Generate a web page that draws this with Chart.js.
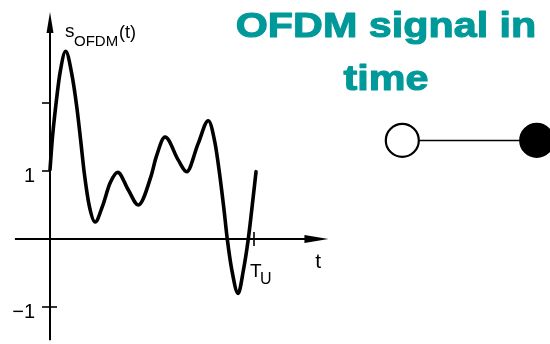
<!DOCTYPE html>
<html>
<head>
<meta charset="utf-8">
<script src="https://cdn.jsdelivr.net/npm/chart.js@4"></script>
<style>
  html, body { margin: 0; padding: 0; background: #fff; }
  #wrap { width: 550px; height: 344px; position: relative; }
</style>
</head>
<body>
<div id="wrap"><canvas id="sig"></canvas></div>
<script>
// signal samples (t in units of T_U, amplitude)
const timeT = [0, 0.011, 0.028, 0.049, 0.077, 0.106, 0.131, 0.150, 0.168, 0.193, 0.221, 0.257, 0.294, 0.332, 0.384, 0.433, 0.495, 0.52, 0.564, 0.629, 0.67, 0.727, 0.776, 0.809, 0.833, 0.853, 0.869, 0.891, 0.922, 0.948, 0.972, 0.989, 1.01];
const ampS  = [1.02, 1.46, 1.95, 2.44, 2.76, 2.44, 1.95, 1.46, 0.97, 0.48, 0.25, 0.48, 0.82, 0.98, 0.72, 0.5, 0.92, 1.2, 1.5, 1.16, 0.99, 1.41, 1.74, 1.41, 0.92, 0.43, 0, -0.45, -0.8, -0.46, 0, 0.43, 0.99];

// axis ticks
const yTickValues = [2, 1, -1];
const yTickLabels = ['', '1', '\u22121'];
const xTickValues = [1];

// open / filled circle symbol on the right
const symbolT = [1.727, 2.386];
const symbolS = [1.45, 1.45];

const titleLines = ['OFDM signal in', 'time'];

const axesPlugin = {
    id: 'axes',
    beforeDatasetsDraw(chart) {
        const ctx = chart.ctx;
        const xs = chart.scales.x, ys = chart.scales.y;
        const x0 = xs.getPixelForValue(0), y0 = ys.getPixelForValue(0);
        ctx.save();
        ctx.strokeStyle = '#000';
        ctx.fillStyle = '#000';
        ctx.lineWidth = 2;
        // x axis
        const xEnd = xs.getPixelForValue(1.365);
        ctx.beginPath();
        ctx.moveTo(xs.getPixelForValue(-0.172), y0);
        ctx.lineTo(xEnd - 10, y0);
        ctx.stroke();
        ctx.beginPath();
        ctx.moveTo(xEnd, y0);
        ctx.lineTo(xEnd - 24, y0 - 4);
        ctx.lineTo(xEnd - 24, y0 + 4);
        ctx.closePath();
        ctx.fill();
        // y axis
        const yTop = ys.getPixelForValue(3.34);
        ctx.beginPath();
        ctx.moveTo(x0, ys.getPixelForValue(-1.49));
        ctx.lineTo(x0, yTop + 10);
        ctx.stroke();
        ctx.beginPath();
        ctx.moveTo(x0, yTop);
        ctx.lineTo(x0 - 3.5, yTop + 21);
        ctx.lineTo(x0 + 3.5, yTop + 21);
        ctx.closePath();
        ctx.fill();
        // y ticks
        ctx.lineWidth = 1.6;
        yTickValues.forEach((v, i) => {
            const py = ys.getPixelForValue(v);
            ctx.beginPath();
            ctx.moveTo(x0 - 8, py);
            ctx.lineTo(v < 0 ? x0 + 7 : x0, py);
            ctx.stroke();
        });
        // x ticks
        xTickValues.forEach(t => {
            const px = xs.getPixelForValue(t);
            ctx.beginPath();
            ctx.moveTo(px, y0 - 7);
            ctx.lineTo(px, y0 + 7);
            ctx.stroke();
        });
        ctx.restore();
    },
    afterDraw(chart) {
        const ctx = chart.ctx;
        const xs = chart.scales.x, ys = chart.scales.y;
        const x0 = xs.getPixelForValue(0), y0 = ys.getPixelForValue(0);
        ctx.save();
        ctx.fillStyle = '#000';
        ctx.textBaseline = 'middle';
        ctx.textAlign = 'right';
        ctx.font = '20px "Liberation Sans", Arial, sans-serif';
        yTickValues.forEach((v, i) => {
            if (yTickLabels[i]) ctx.fillText(yTickLabels[i], x0 - 15, ys.getPixelForValue(v) + 5);
        });
        // axis names
        ctx.textBaseline = 'alphabetic';
        ctx.textAlign = 'left';
        ctx.font = '21px "Liberation Sans", Arial, sans-serif';
        ctx.fillText('t', xs.getPixelForValue(1.3), y0 + 29);
        ctx.font = '19px "Liberation Sans", Arial, sans-serif';
        const tuX = xs.getPixelForValue(1) - 4;
        ctx.fillText('T', tuX, y0 + 38);
        ctx.font = '16px "Liberation Sans", Arial, sans-serif';
        ctx.fillText('U', tuX + 10, y0 + 45);
        // s_OFDM(t)
        const sx = x0 + 15;
        ctx.font = '19px "Liberation Sans", Arial, sans-serif';
        ctx.fillText('s', sx, 37);
        ctx.font = '15px "Liberation Sans", Arial, sans-serif';
        ctx.fillText('OFDM', sx + 9, 46);
        ctx.font = '18px "Liberation Sans", Arial, sans-serif';
        ctx.fillText('(t)', sx + 54, 38);
        // title
        ctx.fillStyle = '#00999a';
        ctx.strokeStyle = '#00999a';
        ctx.lineWidth = 1.1;
        ctx.lineJoin = 'round';
        ctx.textAlign = 'center';
        ctx.font = 'bold 35px "Liberation Sans", Arial, sans-serif';
        const baselines = [37, 90];
        titleLines.forEach((line, i) => {
            ctx.save();
            ctx.translate(386, baselines[i]);
            ctx.scale(1.18, 1);
            ctx.fillText(line, 0, 0);
            ctx.strokeText(line, 0, 0);
            ctx.restore();
        });
        ctx.restore();
    }
};

const ctx = document.getElementById('sig').getContext('2d');
const chart = new Chart(ctx, {
    type: 'line',
    data: {
        datasets: [{
            label: 's_OFDM(t)',
            data: timeT.map((t, i) => ({ x: t, y: ampS[i] })),
            borderColor: '#000',
            borderWidth: 3.6,
            pointRadius: 0,
            fill: false,
            cubicInterpolationMode: 'monotone',
            borderCapStyle: 'round',
            borderJoinStyle: 'round'
        }, {
            label: 'symbol',
            data: symbolT.map((t, i) => ({ x: t, y: symbolS[i] })),
            borderColor: '#000',
            borderWidth: 1.5,
            pointRadius: 16.5,
            pointBorderWidth: 2.2,
            pointBorderColor: '#000',
            pointBackgroundColor: ['#fff', '#000'],
            fill: false,
            clip: false
        }]
    },
    options: {
        responsive: true,
        maintainAspectRatio: false,
        animation: false,
        events: [],
        layout: { padding: 0, autoPadding: false },
        plugins: { legend: { display: false }, tooltip: { enabled: false }, title: { display: false } },
        scales: {
            x: { type: 'linear', min: -0.2451, max: 2.4510, display: false },
            y: { type: 'linear', min: -1.5441, max: 3.5147, display: false }
        }
    },
    plugins: [axesPlugin]
});
</script>
</body>
</html>
